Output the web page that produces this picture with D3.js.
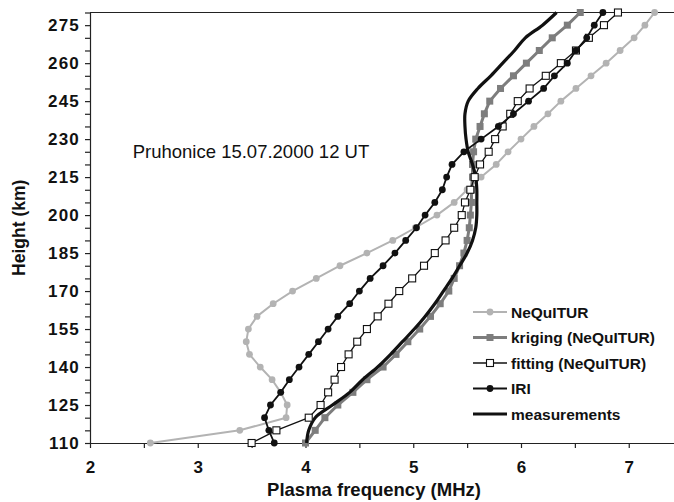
<!DOCTYPE html>
<html>
<head>
<meta charset="utf-8">
<script src="https://cdn.jsdelivr.net/npm/d3@7"></script>
<style>
  body { margin: 0; background: #fff; }
  svg { display: block; font-family: "Liberation Sans", Arial, sans-serif; }
</style>
</head>
<body>
<svg id="chart" width="674" height="502"></svg>
<script>
// heights (km) - same grid for every profile
var heights = [110, 115, 120, 125, 130, 135, 140, 145, 150, 155, 160, 165, 170, 175, 180, 185,
               190, 195, 200, 205, 210, 215, 220, 225, 230, 235, 240, 245, 250, 255, 260, 265,
               270, 275, 280];

// plasma frequency (MHz)
var nequitur = [2.56, 3.39, 3.82, 3.83, 3.77, 3.69, 3.58, 3.48, 3.45, 3.47, 3.55, 3.70, 3.88, 4.10, 4.32, 4.57,
                4.81, 5.02, 5.22, 5.38, 5.50, 5.63, 5.77, 5.88, 6.00, 6.12, 6.25, 6.37, 6.51, 6.65, 6.79, 6.92,
                7.05, 7.15, 7.24];
var kriging  = [4.00, 4.09, 4.18, 4.30, 4.44, 4.57, 4.72, 4.84, 4.95, 5.06, 5.16, 5.25, 5.33, 5.38, 5.43, 5.47,
                5.50, 5.52, 5.53, 5.54, 5.54, 5.55, 5.55, 5.56, 5.58, 5.62, 5.66, 5.71, 5.81, 5.93, 6.05, 6.17,
                6.29, 6.43, 6.55];
var fitting  = [3.50, 3.73, 4.03, 4.14, 4.21, 4.27, 4.33, 4.40, 4.48, 4.57, 4.67, 4.77, 4.87, 4.99, 5.10, 5.20,
                5.30, 5.38, 5.45, 5.48, 5.53, 5.57, 5.62, 5.70, 5.76, 5.83, 5.90, 5.97, 6.08, 6.23, 6.37, 6.51,
                6.63, 6.77, 6.90];
var iri      = [3.71, 3.66, 3.62, 3.675, 3.77, 3.85, 3.94, 4.03, 4.12, 4.21, 4.30, 4.41, 4.50, 4.60, 4.72, 4.83,
                4.93, 5.03, 5.11, 5.20, 5.27, 5.31, 5.36, 5.47, 5.63, 5.79, 5.93, 6.07, 6.21, 6.31, 6.43, 6.51,
                6.61, 6.68, 6.76];
var measured = [4.01, 4.03, 4.09, 4.25, 4.41, 4.53, 4.67, 4.79, 4.90, 5.01, 5.11, 5.20, 5.28, 5.36, 5.43, 5.50,
                5.55, 5.58, 5.59, 5.59, 5.59, 5.58, 5.55, 5.51, 5.49, 5.48, 5.48, 5.51, 5.60, 5.72, 5.83, 5.94,
                6.04, 6.20, 6.33];

var xTicks = [2, 2.5, 3, 3.5, 4, 4.5, 5, 5.5, 6, 6.5, 7];
var yLabels = [110, 125, 140, 155, 170, 185, 200, 215, 230, 245, 260, 275];

var series = [
  {name: "NeQuITUR",             values: nequitur, color: "#b3b3b3", width: 2,   marker: "circle", fill: "#b3b3b3"},
  {name: "kriging (NeQuITUR)",   values: kriging,  color: "#7d7d7d", width: 3,   marker: "square", fill: "#7d7d7d"},
  {name: "measurements",         values: measured, color: "#111",    width: 3.2, marker: null},
  {name: "fitting (NeQuITUR)",   values: fitting,  color: "#111",    width: 1.3, marker: "square", fill: "#fff"},
  {name: "IRI",                  values: iri,      color: "#111",    width: 1.8, marker: "circle", fill: "#111"}
];
var legendOrder = ["NeQuITUR", "kriging (NeQuITUR)", "fitting (NeQuITUR)", "IRI", "measurements"];

var svg = d3.select("#chart"),
    margin = {top: 12.5, right: 0, bottom: 59, left: 90},
    width = +svg.attr("width") - margin.left - margin.right,
    height = +svg.attr("height") - margin.top - margin.bottom,
    g = svg.append("g").attr("transform", "translate(" + margin.left + "," + margin.top + ")");

var x = d3.scaleLinear().domain([2, 7.42]).range([0, width]);
var y = d3.scaleLinear().domain([110, 280]).range([height, 0]);

// top frame line
g.append("line")
    .attr("x1", 0).attr("x2", width)
    .attr("y1", y(280)).attr("y2", y(280))
    .attr("stroke", "#222").attr("stroke-width", 1.2);

// axes
var xAxis = g.append("g")
    .attr("transform", "translate(0," + height + ")")
    .call(d3.axisBottom(x).tickValues(xTicks).tickSize(5).tickSizeOuter(0)
      .tickFormat(function(d) { return d % 1 === 0 ? d : ""; }));
xAxis.selectAll("text")
    .attr("dy", 0).attr("y", 30)
    .style("font-size", "17px").style("font-weight", "bold").attr("fill", "#111");

var yAxis = g.append("g")
    .call(d3.axisLeft(y).tickValues(d3.range(110, 281, 5)).tickSize(5).tickSizeOuter(0)
      .tickFormat(function(d) { return yLabels.indexOf(d) >= 0 ? d : ""; }));
yAxis.selectAll("text")
    .attr("x", -10)
    .style("font-size", "17px").style("font-weight", "bold")
    .style("letter-spacing", "1.2px").attr("fill", "#111");

svg.selectAll(".domain, .tick line").attr("stroke", "#222").attr("stroke-width", 1.2);

// axis titles
svg.append("text")
    .attr("transform", "translate(25," + (margin.top + height / 2) + ") rotate(-90)")
    .attr("text-anchor", "middle")
    .style("font-size", "17.5px").style("font-weight", "bold")
    .attr("fill", "#111")
    .text("Height (km)");

svg.append("text")
    .attr("x", 374).attr("y", 496)
    .attr("text-anchor", "middle")
    .style("font-size", "18.5px").style("font-weight", "bold")
    .attr("fill", "#111")
    .text("Plasma frequency (MHz)");

// annotation
g.append("text")
    .attr("x", 132.7 - margin.left).attr("y", 158 - margin.top)
    .style("font-size", "18.5px")
    .attr("fill", "#111")
    .text("Pruhonice 15.07.2000 12 UT");

// curves
series.forEach(function(s) {
  var pts = heights.map(function(h, i) { return {h: h, f: s.values[i]}; });
  var line = d3.line()
      .x(function(d) { return x(d.f); })
      .y(function(d) { return y(d.h); })
      .curve(s.marker ? d3.curveLinear : d3.curveCatmullRom);

  var sg = g.append("g");
  sg.append("path")
      .datum(pts)
      .attr("fill", "none")
      .attr("stroke", s.color)
      .attr("stroke-width", s.width)
      .attr("stroke-linejoin", "round")
      .attr("d", line);

  if (s.marker == "circle") {
    sg.selectAll("circle").data(pts).enter().append("circle")
        .attr("cx", function(d) { return x(d.f); })
        .attr("cy", function(d) { return y(d.h); })
        .attr("r", 3.4)
        .attr("fill", s.fill);
  } else if (s.marker == "square") {
    sg.selectAll("rect").data(pts).enter().append("rect")
        .attr("x", function(d) { return x(d.f) - 3.5; })
        .attr("y", function(d) { return y(d.h) - 3.5; })
        .attr("width", 7).attr("height", 7)
        .attr("fill", s.fill)
        .attr("stroke", s.fill == "#fff" ? "#111" : "none")
        .attr("stroke-width", 1.1);
  }
});

// legend
var legend = svg.append("g")
  .selectAll("g")
  .data(legendOrder.map(function(n) { return series.filter(function(s) { return s.name == n; })[0]; }))
  .enter().append("g")
    .attr("transform", function(d, i) { return "translate(473," + (312 + i * 25.5) + ")"; });

legend.append("line")
    .attr("x1", 0).attr("x2", 34)
    .attr("stroke", function(d) { return d.color; })
    .attr("stroke-width", function(d) { return d.width; });

legend.filter(function(d) { return d.marker == "circle"; }).append("circle")
    .attr("cx", 17).attr("r", 3.4)
    .attr("fill", function(d) { return d.fill; });

legend.filter(function(d) { return d.marker == "square"; }).append("rect")
    .attr("x", 13.5).attr("y", -3.5).attr("width", 7).attr("height", 7)
    .attr("fill", function(d) { return d.fill; })
    .attr("stroke", function(d) { return d.fill == "#fff" ? "#111" : "none"; })
    .attr("stroke-width", 1.1);

legend.append("text")
    .attr("x", 38).attr("dy", "0.36em")
    .style("font-size", "15.5px").style("font-weight", "bold")
    .attr("fill", "#111")
    .text(function(d) { return d.name; });
</script>
</body>
</html>
